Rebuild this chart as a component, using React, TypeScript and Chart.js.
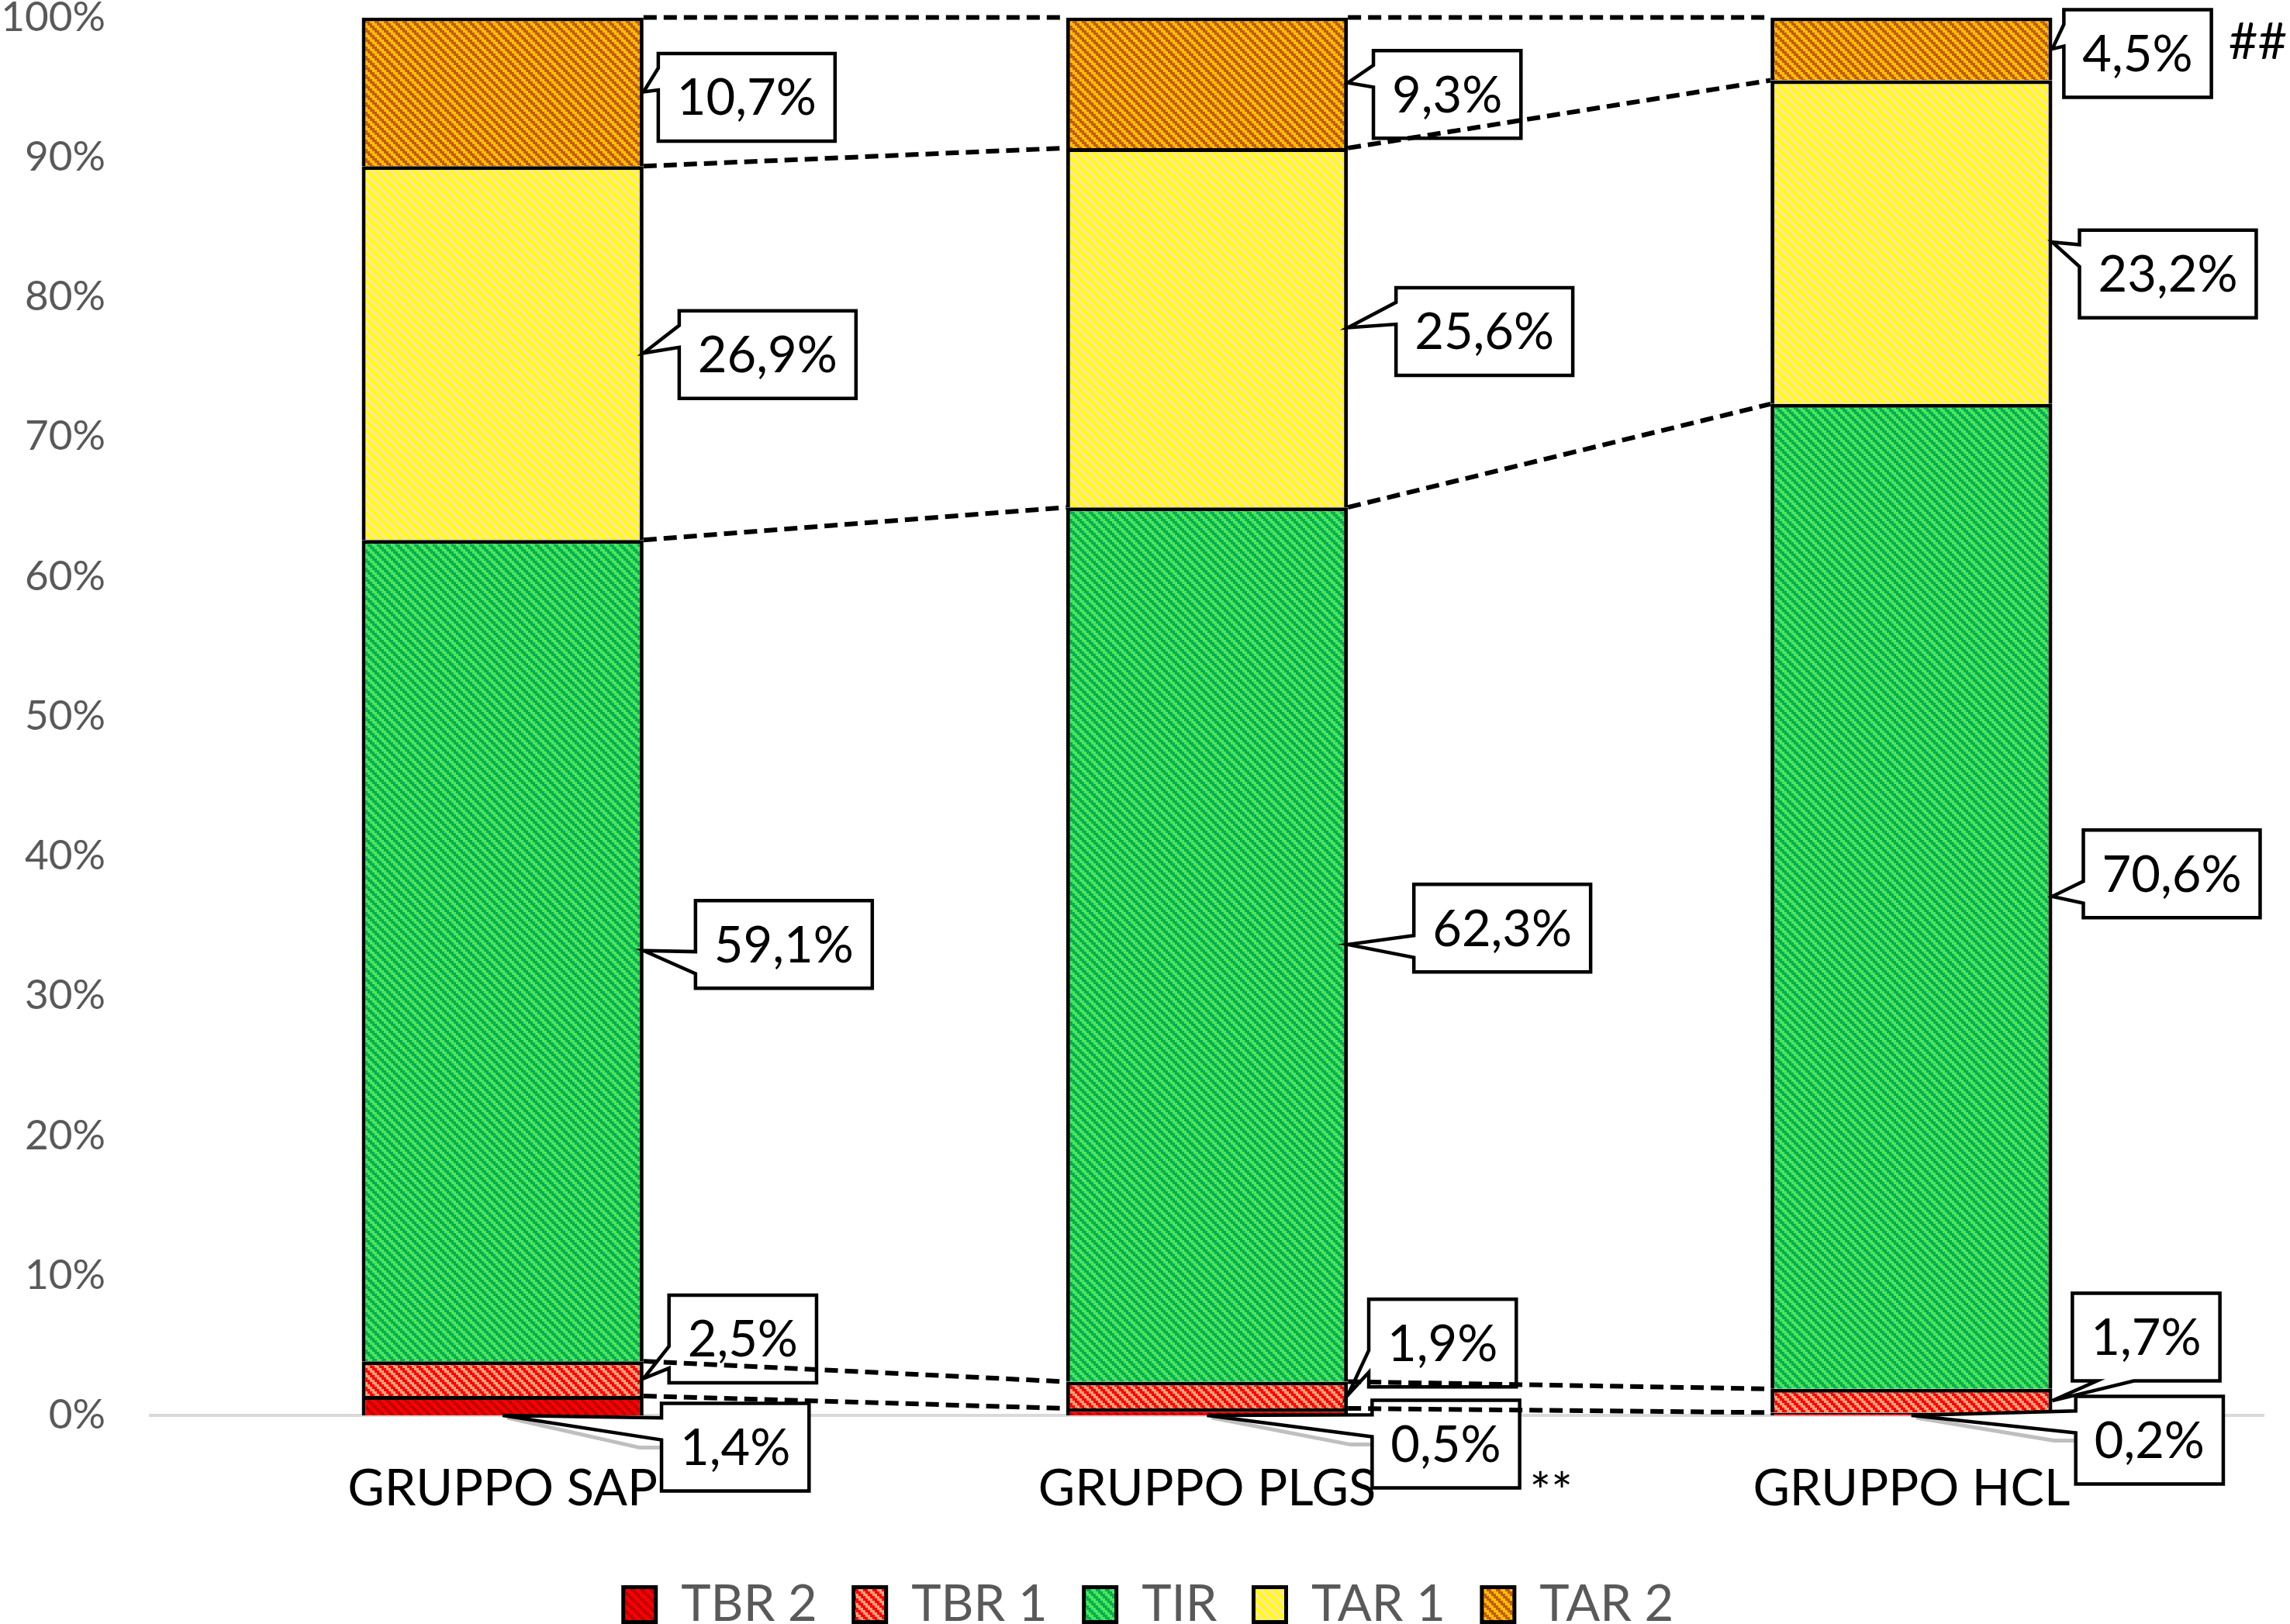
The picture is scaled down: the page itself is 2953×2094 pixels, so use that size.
import React, { useEffect, useRef } from 'react';
import { Chart, registerables } from 'chart.js';

Chart.register(...registerables);

// ---------------- data ----------------
const categories = ['GRUPPO SAP', 'GRUPPO PLGS', 'GRUPPO HCL'];
const seriesNames = ['TBR 2', 'TBR 1', 'TIR', 'TAR 1', 'TAR 2'];
const tbr2 = [1.4, 0.5, 0.2];
const tbr1 = [2.5, 1.9, 1.7];
const tir = [59.1, 62.3, 70.6];
const tar1 = [26.9, 25.6, 23.2];
const tar2 = [10.7, 9.3, 4.5];
const yMin = 0;
const yMax = 100;
const yStep = 10;
const categoryNotes = ['', '**', '##'];

const series = [tbr2, tbr1, tir, tar1, tar2];
const totals = categories.map((_, i) => series.reduce((s, arr) => s + arr[i], 0));

// ---------------- styles ----------------
const FONT = "Lato, 'DejaVu Sans', sans-serif";
const stripeColors = [
  ['#C00000', '#FF0000'],
  ['#FF0000', '#F4A07C'],
  ['#00B050', '#4FE45C'],
  ['#FFFF00', '#FFE699'],
  ['#C55A11', '#FFC000'],
];
// callout box centre relative to its anchor point, per series / category (px)
const labelOffsets = [
  [[300, 41], [308, 37], [307, 32]],
  [[128, -51], [122, -67], [121, -82]],
  [[181, -8], [199, -21], [154, -29]],
  [[160, 2], [176, 5], [149, 41]],
  [[133, 7], [128, 15], [110, 6]],
];
// note text position: [dx from category centre, y from chart area edge, edge]
const notePlacement = [
  [0, 0, 'bottom'],
  [416, 122, 'bottom'],
  [409, 53, 'top'],
];
const LEGEND_SHIFT = 21.5;

const fmt = (v: number) => v.toFixed(1).replace('.', ',') + '%';

function makeTile(c1: string, c2: string) {
  const tile = document.createElement('canvas');
  tile.width = 12;
  tile.height = 12;
  const t = tile.getContext('2d')!;
  for (let y = 0; y < 12; y++) {
    for (let x = 0; x < 12; x++) {
      const r = Math.floor(y / 3);
      const c = Math.floor(x / 3);
      t.fillStyle = ((c - r + 8) % 4) < 2 ? c1 : c2;
      t.fillRect(x, y, 1, 1);
    }
  }
  return tile;
}

function wedgePath(ctx: CanvasRenderingContext2D, l: number, t: number, w: number, h: number, xPos: number, yPos: number) {
  const r = l + w;
  const b = t + h;
  const hc = l + w / 2;
  const vc = t + h / 2;
  const dxPos = xPos - hc;
  const dyPos = yPos - vc;
  const dq = (dxPos * h) / w;
  const dz = Math.abs(dyPos) - Math.abs(dq);
  const x1 = l + (w * (dxPos > 0 ? 7 : 2)) / 12;
  const x2 = l + (w * (dxPos > 0 ? 10 : 5)) / 12;
  const y1 = t + (h * (dyPos > 0 ? 7 : 2)) / 12;
  const y2 = t + (h * (dyPos > 0 ? 10 : 5)) / 12;
  const xl = dz > 0 ? l : dxPos > 0 ? l : xPos;
  const yl = dz > 0 ? y1 : dxPos > 0 ? y1 : yPos;
  const xt = dz > 0 ? (dyPos > 0 ? x1 : xPos) : x1;
  const yt = dz > 0 ? (dyPos > 0 ? t : yPos) : t;
  const xr = dz > 0 ? r : dxPos > 0 ? xPos : r;
  const yr = dz > 0 ? y1 : dxPos > 0 ? yPos : y1;
  const xb = dz > 0 ? (dyPos > 0 ? xPos : x1) : x1;
  const yb = dz > 0 ? (dyPos > 0 ? yPos : b) : b;
  ctx.beginPath();
  ctx.moveTo(l, t);
  ctx.lineTo(x1, t);
  ctx.lineTo(xt, yt);
  ctx.lineTo(x2, t);
  ctx.lineTo(r, t);
  ctx.lineTo(r, y1);
  ctx.lineTo(xr, yr);
  ctx.lineTo(r, y2);
  ctx.lineTo(r, b);
  ctx.lineTo(x2, b);
  ctx.lineTo(xb, yb);
  ctx.lineTo(x1, b);
  ctx.lineTo(l, b);
  ctx.lineTo(l, y2);
  ctx.lineTo(xl, yl);
  ctx.lineTo(l, y1);
  ctx.closePath();
}

const overlayPlugin = {
  id: 'overlay',
  afterLayout(chart: any) {
    if (chart.legend) {
      chart.legend.left += LEGEND_SHIFT;
      chart.legend.right += LEGEND_SHIFT;
    }
  },
  afterDatasetsDraw(chart: any) {
    const ctx: CanvasRenderingContext2D = chart.ctx;
    const yScale = chart.scales.y;
    const xScale = chart.scales.x;
    const zeroY = yScale.getPixelForValue(0);
    ctx.save();
    ctx.font = `65px ${FONT}`;
    ctx.textAlign = 'center';
    ctx.textBaseline = 'middle';

    // callout data labels
    series.forEach((vals, di) => {
      const meta = chart.getDatasetMeta(di);
      meta.data.forEach((bar: any, i: number) => {
        const p = bar.getProps(['x', 'y', 'base', 'width'], true);
        let tx: number;
        let ty: number;
        if (di === 0) {
          tx = p.x;
          ty = zeroY;
        } else {
          tx = p.x + p.width / 2;
          ty = (p.y + p.base) / 2;
        }
        const text = fmt(vals[i]);
        const tw = ctx.measureText(text).width;
        const w = tw + 48;
        const h = 113;
        const cx = tx + labelOffsets[di][i][0];
        const cy = ty + labelOffsets[di][i][1];
        const l = cx - w / 2;
        const t = cy - h / 2;
        if (di === 0) {
          const yy = t + (h * 5) / 12 + 10;
          ctx.beginPath();
          ctx.moveTo(tx + 6, ty + 3);
          ctx.lineTo(l - 28, yy);
          ctx.lineTo(l, yy);
          ctx.strokeStyle = '#BFBFBF';
          ctx.lineWidth = 5;
          ctx.setLineDash([]);
          ctx.stroke();
        }
        wedgePath(ctx, l, t, w, h, tx, ty);
        ctx.fillStyle = '#FFFFFF';
        ctx.fill();
        ctx.lineWidth = 4.5;
        ctx.lineJoin = 'miter';
        ctx.strokeStyle = '#000000';
        ctx.setLineDash([]);
        ctx.stroke();
        ctx.fillStyle = '#000000';
        ctx.fillText(text, cx, cy + 2);
      });
    });

    // series lines (dashed) connecting segment tops
    ctx.strokeStyle = '#000000';
    ctx.lineWidth = 6;
    ctx.setLineDash([17, 9]);
    series.forEach((_, di) => {
      const meta = chart.getDatasetMeta(di);
      for (let i = 0; i < meta.data.length - 1; i++) {
        const a = meta.data[i].getProps(['x', 'y', 'width'], true);
        const b = meta.data[i + 1].getProps(['x', 'y', 'width'], true);
        ctx.beginPath();
        ctx.moveTo(a.x + a.width / 2, a.y);
        ctx.lineTo(b.x - b.width / 2, b.y);
        ctx.stroke();
      }
    });
    ctx.setLineDash([]);

    // notes
    ctx.textAlign = 'left';
    ctx.textBaseline = 'alphabetic';
    ctx.fillStyle = '#000000';
    categoryNotes.forEach((note, i) => {
      if (!note) return;
      const [dx, dy, edge] = notePlacement[i] as [number, number, string];
      const x = xScale.getPixelForValue(i) + dx;
      const y = edge === 'top' ? chart.chartArea.top + dy : chart.chartArea.bottom + dy;
      ctx.fillText(note, x, y);
    });
    ctx.restore();
  },
};

export default function App() {
  const canvasRef = useRef<HTMLCanvasElement | null>(null);

  useEffect(() => {
    document.body.style.margin = '0';
    const canvas = canvasRef.current!;
    const ctx = canvas.getContext('2d')!;
    const patterns = stripeColors.map(([a, b]) => ctx.createPattern(makeTile(a, b), 'repeat')!);

    const chart = new Chart(canvas, {
      type: 'bar',
      data: {
        labels: categories,
        datasets: series.map((vals, di) => ({
          label: seriesNames[di],
          data: vals.map((v, i) => (v / totals[i]) * 100),
          backgroundColor: patterns[di],
          borderColor: '#000000',
          borderWidth: 5,
          borderSkipped: 'start',
          categoryPercentage: 1,
          barPercentage: 0.4,
        })),
      },
      options: {
        animation: false,
        responsive: false,
        devicePixelRatio: 1,
        layout: { padding: { left: 0, right: 34, top: 22.6, bottom: -17.5 } },
        plugins: {
          legend: {
            position: 'bottom',
            labels: {
              font: { family: FONT, size: 65 },
              color: '#595959',
              boxWidth: 42,
              boxHeight: 45,
              padding: 47,
            },
          },
          tooltip: { enabled: false },
        },
        scales: {
          x: {
            stacked: true,
            grid: { display: false, drawTicks: false },
            border: { display: true, color: '#D9D9D9', width: 4 },
            ticks: {
              font: { family: FONT, size: 65, lineHeight: 1.2 },
              color: '#000000',
              padding: 56,
              maxRotation: 0,
              autoSkip: false,
            },
            afterFit: (s: any) => {
              s.height = 164.5;
            },
          },
          y: {
            stacked: true,
            min: yMin,
            max: yMax,
            ticks: {
              stepSize: yStep,
              callback: (v: any) => v + '%',
              font: { family: FONT, size: 53 },
              color: '#595959',
              padding: 58,
            },
            grid: { display: false, drawTicks: false },
            border: { display: false },
            afterFit: (s: any) => {
              s.width = 194;
              s.paddingTop = 0;
              s.paddingBottom = 0;
            },
          },
        },
      },
      plugins: [overlayPlugin],
    } as any);

    return () => chart.destroy();
  }, []);

  return (
    <div style={{ width: 2953, height: 2094, background: '#fff' }}>
      <canvas ref={canvasRef} width={2953} height={2094} style={{ display: 'block', width: 2953, height: 2094 }} />
    </div>
  );
}
